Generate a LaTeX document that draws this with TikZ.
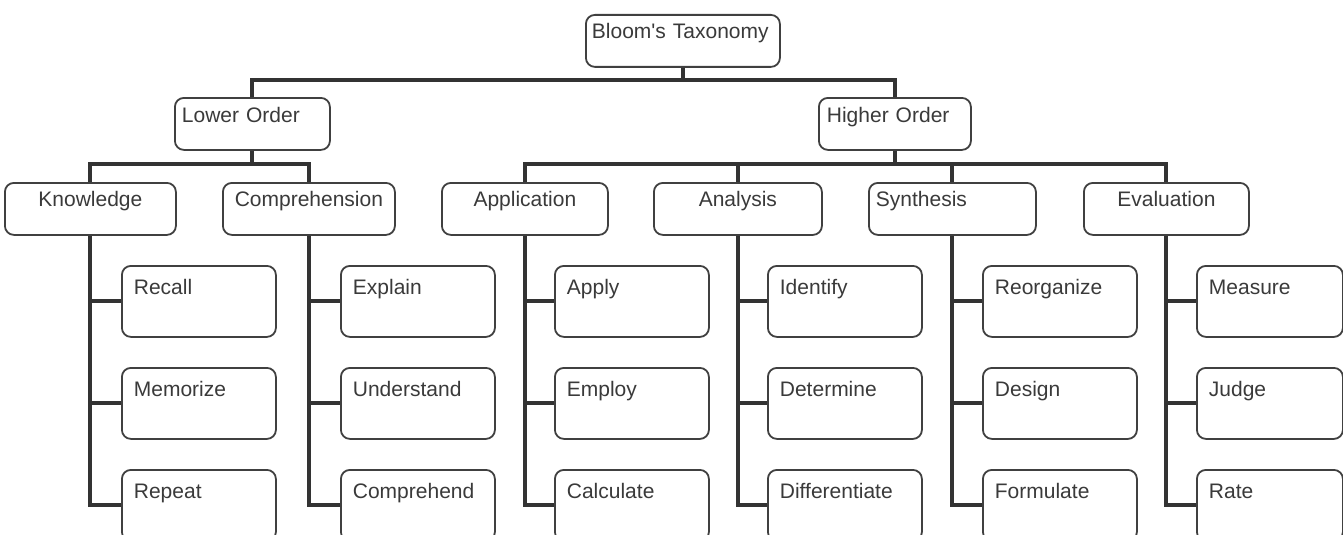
\documentclass[tikz,border=0pt]{standalone}
\usepackage{fontspec}
\setmainfont{Liberation Sans}
\newfontfamily\boxfont{Liberation Sans}
\definecolor{boxc}{HTML}{404040}
\definecolor{linec}{HTML}{333333}
\definecolor{txtc}{HTML}{3a3a3a}
\begin{document}
\begin{tikzpicture}[x=1pt,y=-1pt,
  box/.style={draw=boxc, line width=1.8pt, rounded corners=9pt, anchor=north west,
    inner ysep=0pt, font=\boxfont\fontsize{21}{24}\selectfont, text=txtc, fill=white},
  mid/.style={box, align=center, inner xsep=0pt, text height=24pt, text depth=28pt},
  midl/.style={box, align=left, inner xsep=7pt, text height=24pt, text depth=28pt},
  leaf/.style={box, align=left, inner xsep=12pt, text width=130pt, text height=29pt, text depth=42pt},
  conn/.style={draw=linec, line width=4pt}]
\useasboundingbox (0,0) rectangle (1343,535);
% top
\node[box, align=left, inner xsep=6pt, text width=182pt, text height=24pt, text depth=28pt] (root) at (585,14) {Bloom's Taxonomy};
\node[box, align=left, inner xsep=7pt, text width=141pt, text height=25pt, text depth=27pt] (L) at (174,97) {Lower Order};
\node[box, align=left, inner xsep=8pt, text width=136pt, text height=25pt, text depth=27pt] (H) at (818,97) {Higher Order};
% middle
\node[mid, text width=171pt] (K) at (4,182) {Knowledge};
\node[mid, text width=172pt] (C) at (222,182) {Comprehension};
\node[mid, text width=166pt] (Ap) at (441,182) {Application};
\node[mid, text width=168pt] (An) at (653,182) {Analysis};
\node[midl, text width=153pt] (Sy) at (868,182) {Synthesis};
\node[mid, text width=165pt] (Ev) at (1083,182) {Evaluation};
% leaves
\node[leaf] (K1) at (121,265) {Recall};
\node[leaf] (K2) at (121,367) {Memorize};
\node[leaf] (K3) at (121,469) {Repeat};
\node[leaf] (C1) at (340,265) {Explain};
\node[leaf] (C2) at (340,367) {Understand};
\node[leaf] (C3) at (340,469) {Comprehend};
\node[leaf] (Ap1) at (554,265) {Apply};
\node[leaf] (Ap2) at (554,367) {Employ};
\node[leaf] (Ap3) at (554,469) {Calculate};
\node[leaf] (An1) at (767,265) {Identify};
\node[leaf] (An2) at (767,367) {Determine};
\node[leaf] (An3) at (767,469) {Differentiate};
\node[leaf] (Sy1) at (982,265) {Reorganize};
\node[leaf] (Sy2) at (982,367) {Design};
\node[leaf] (Sy3) at (982,469) {Formulate};
\node[leaf, text width=122pt] (Ev1) at (1196,265) {Measure};
\node[leaf, text width=122pt] (Ev2) at (1196,367) {Judge};
\node[leaf, text width=122pt] (Ev3) at (1196,469) {Rate};
% buses
\coordinate (b0) at (0,80);
\coordinate (b1) at (0,164);
\draw[conn] (root.south) -- (root.south |- b0);
\draw[conn] (L.north) -- (L.north |- b0) -- (H.north |- b0) -- (H.north);
\draw[conn] (L.south) -- (L.south |- b1);
\draw[conn] (K.north) -- (K.north |- b1) -- (C.north |- b1) -- (C.north);
\draw[conn] (H.south) -- (H.south |- b1);
\draw[conn] (Ap.north) -- (Ap.north |- b1) -- (Ev.north |- b1) -- (Ev.north);
\draw[conn] (An.north) -- (An.north |- b1);
\draw[conn] (Sy.north) -- (Sy.north |- b1);
% leaf connectors
\foreach \p in {K,C,Ap,An,Sy,Ev}{
  \draw[conn] (\p.south) |- (\p3.west);
  \draw[conn] (\p.south |- \p1.west) -- (\p1.west);
  \draw[conn] (\p.south |- \p2.west) -- (\p2.west);
}
\end{tikzpicture}
\end{document}
